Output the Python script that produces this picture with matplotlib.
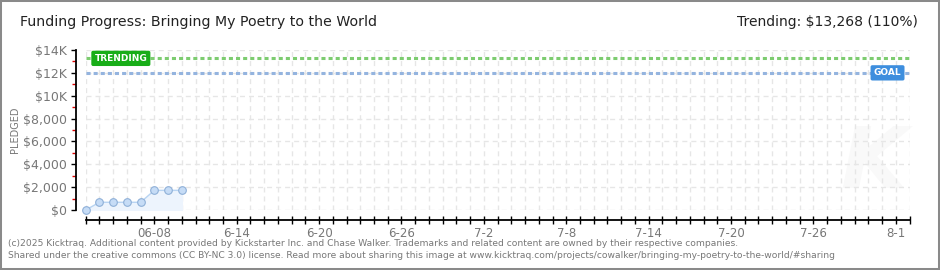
import numpy as np
import matplotlib
matplotlib.use('Agg')
import matplotlib.pyplot as plt
from matplotlib.patches import Rectangle

# campaign data
dates = np.array(['2025-06-03', '2025-06-04', '2025-06-05', '2025-06-06',
                  '2025-06-07', '2025-06-08', '2025-06-09', '2025-06-10'], dtype='datetime64[D]')
pledged = [0, 675, 675, 675, 675, 1720, 1720, 1720]
goal = 12000
trending = 13268

start = np.datetime64('2025-06-03')
end = np.datetime64('2025-08-02')

label_dates = np.array(['2025-06-08', '2025-06-14', '2025-06-20', '2025-06-26', '2025-07-02',
                        '2025-07-08', '2025-07-14', '2025-07-20', '2025-07-26', '2025-08-01'],
                       dtype='datetime64[D]')
label_text = ['06-08', '6-14', '6-20', '6-26', '7-2', '7-8', '7-14', '7-20', '7-26', '8-1']
y_ticks = [0, 2000, 4000, 6000, 8000, 10000, 12000, 14000]
y_labels = ['$0', '$2,000', '$4,000', '$6,000', '$8,000', '$10K', '$12K', '$14K']

plt.rcParams['font.family'] = ['DejaVu Sans']

x = (dates - start).astype(int)
ndays = int((end - start).astype(int))
day_labels = {int((d - start).astype(int)): t for d, t in zip(label_dates, label_text)}

fig = plt.figure(figsize=(9.4, 2.7), dpi=100)
W, H = 940, 270
ax = fig.add_axes([85.7 / W, 60 / H, (909.5 - 85.7) / W, 160 / H])
ax.set_xlim(0, ndays)
ax.set_ylim(0, 14000)

# grid
ax.set_xticks(range(ndays + 1))
ax.set_xticklabels([day_labels.get(i, '') for i in range(ndays + 1)])
ax.set_yticks(y_ticks)
ax.set_yticklabels(y_labels)
ax.set_yticks(range(1000, 14000, 2000), minor=True)
ax.grid(True, which='major', color='#e6e6e6', linestyle=(0, (3.6, 2.9)), linewidth=1)
ax.set_axisbelow(True)

# faint watermark
ax.text(57.4, 4000, 'K', fontsize=62, fontweight='bold', style='italic', color='#f9f9f9',
        ha='center', va='center', zorder=0)

# spines
for s in ['top', 'right']:
    ax.spines[s].set_visible(False)
ax.spines['left'].set_position(('outward', 7))
ax.spines['bottom'].set_position(('outward', 7))
ax.spines['left'].set_bounds(0, 14000)
ax.spines['bottom'].set_bounds(0, ndays)
ax.spines['left'].set_linewidth(1.3)
ax.spines['bottom'].set_linewidth(1.3)

ax.tick_params(axis='x', which='major', direction='inout', length=6, width=1.0,
               colors='black', labelcolor='#777777', labelsize=8.5, pad=2)
ax.tick_params(axis='y', which='major', direction='out', length=3.5, width=1.0,
               colors='black', labelcolor='#777777', labelsize=9, pad=3)
ax.tick_params(axis='y', which='minor', direction='out', length=3, width=1.0, colors='#dd0000')

ax.set_ylabel('PLEDGED', fontsize=7, color='#777777')
ax.yaxis.set_label_coords((20 - 85.7) / 823.8, 0.5)

# goal and trending lines
ax.plot([0, ndays], [trending, trending], color='#7dcc70', lw=2.2, linestyle=(0, (1.33, 1)),
        dash_capstyle='butt', zorder=2)
ax.plot([0, ndays], [goal, goal], color='#94b4df', lw=2.2, linestyle=(0, (1.33, 1)),
        dash_capstyle='butt', zorder=2)
ax.text(2.56, trending, 'TRENDING', color='white', fontsize=6.5, fontweight='bold',
        ha='center', va='center', zorder=5,
        bbox=dict(boxstyle='round,pad=0.35,rounding_size=0.2', fc='#18ad18', ec='none'))
ax.text(58.4, goal, 'GOAL', color='white', fontsize=6.5, fontweight='bold',
        ha='center', va='center', zorder=5,
        bbox=dict(boxstyle='round,pad=0.35,rounding_size=0.2', fc='#3d8ede', ec='none'))

# pledged series
ax.fill_between(x, pledged, 0, color='#edf4fd', zorder=3)
ax.plot(x, pledged, color='#b8d4f2', lw=1, marker='o', markersize=5.5,
        markerfacecolor='#c6dcf6', markeredgecolor='#8fb0d8', markeredgewidth=0.8,
        zorder=4, clip_on=False)

# header and footer
fig.text(20 / W, 1 - 22 / H, 'Funding Progress: Bringing My Poetry to the World',
         fontsize=10.2, color='#222222', ha='left', va='center')
fig.text(918 / W, 1 - 22 / H, 'Trending: $13,268 (110%)',
         fontsize=10, color='#222222', ha='right', va='center')
fig.text(8 / W, 1 - 243 / H,
         '(c)2025 Kicktraq. Additional content provided by Kickstarter Inc. and Chase Walker. '
         'Trademarks and related content are owned by their respective companies.',
         fontsize=6.6, color='#777777', ha='left', va='center')
fig.text(8 / W, 1 - 256 / H,
         'Shared under the creative commons (CC BY-NC 3.0) license. Read more about sharing this image at '
         'www.kicktraq.com/projects/cowalker/bringing-my-poetry-to-the-world/#sharing',
         fontsize=6.6, color='#777777', ha='left', va='center')

fig.patches.append(Rectangle((0, 0), 1, 1, transform=fig.transFigure, fill=False,
                             edgecolor='#8a8a8a', lw=2.9))

fig.savefig('out.png', dpi=100)
